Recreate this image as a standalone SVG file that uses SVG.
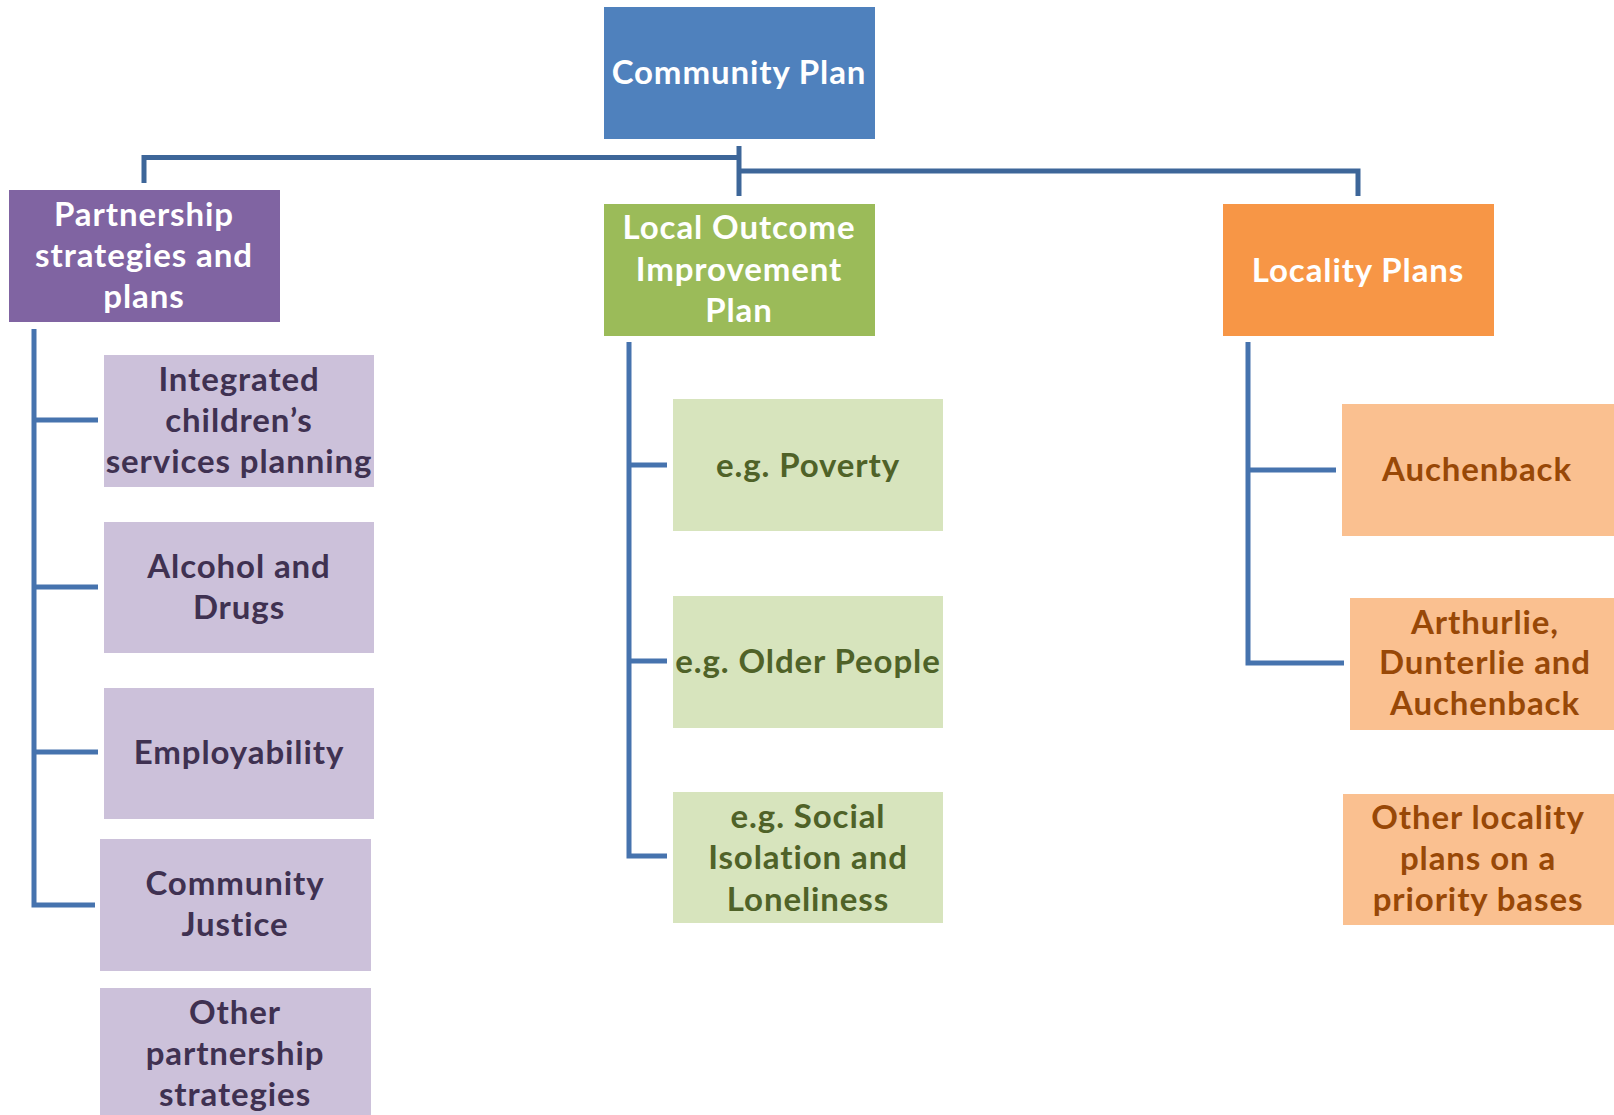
<svg xmlns="http://www.w3.org/2000/svg" width="1614" height="1115" viewBox="0 0 1614 1115">
<style>
text{font-family:Lato,"Open Sans","Liberation Sans",sans-serif;font-weight:bold;font-size:33px;letter-spacing:0.9px;text-anchor:middle}
.w{fill:#ffffff}
.p{fill:#3f3151}
.g{fill:#4f6228}
.o{fill:#984807}
.ln{fill:none;stroke:#4673ae;stroke-width:5;stroke-linejoin:miter}
.lt{fill:none;stroke:#3d6699;stroke-width:5}
</style>
<rect width="1614" height="1115" fill="#ffffff"/>
<g id="connectors">
<path class="lt" d="M739 146 V196"/>
<path class="lt" d="M739 157.5 H144 V183"/>
<path class="lt" d="M739 171 H1358 V196"/>
<path class="ln" d="M34 329 V905 H95 M34 420 H98 M34 587 H98 M34 752 H98"/>
<path class="ln" d="M629 342 V856 H667 M629 465 H667 M629 661 H667"/>
<path class="ln" d="M1248 342 V663 H1344 M1248 470 H1336"/>
</g>
<g id="community-plan"><rect x="604" y="7" width="271" height="132" fill="#4f81bd"/><text class="w" x="739" y="84">Community Plan</text></g>
<g id="partnership"><rect x="9" y="190" width="271" height="132" fill="#8064a2"/><text class="w" x="144" y="226">Partnership</text><text class="w" x="144" y="267">strategies and</text><text class="w" x="144" y="308">plans</text></g>
<g id="loip"><rect x="604" y="204" width="271" height="132" fill="#9bbb59"/><text class="w" x="739" y="239">Local Outcome</text><text class="w" x="739" y="281">Improvement</text><text class="w" x="739" y="322">Plan</text></g>
<g id="locality"><rect x="1223" y="204" width="271" height="132" fill="#f79646"/><text class="w" x="1358" y="282">Locality Plans</text></g>
<g id="integrated"><rect x="104" y="355" width="270" height="132" fill="#ccc1da"/><text class="p" x="239" y="391">Integrated</text><text class="p" x="239" y="432">children’s</text><text class="p" x="239" y="473">services planning</text></g>
<g id="alcohol"><rect x="104" y="522" width="270" height="131" fill="#ccc1da"/><text class="p" x="239" y="578">Alcohol and</text><text class="p" x="239" y="619">Drugs</text></g>
<g id="employability"><rect x="104" y="688" width="270" height="131" fill="#ccc1da"/><text class="p" x="239" y="764">Employability</text></g>
<g id="community-justice"><rect x="100" y="839" width="271" height="132" fill="#ccc1da"/><text class="p" x="235" y="895">Community</text><text class="p" x="235" y="936">Justice</text></g>
<g id="other-partnership"><rect x="100" y="988" width="271" height="130" fill="#ccc1da"/><text class="p" x="235" y="1024">Other</text><text class="p" x="235" y="1065">partnership</text><text class="p" x="235" y="1106">strategies</text></g>
<g id="poverty"><rect x="673" y="399" width="270" height="132" fill="#d7e4bd"/><text class="g" x="808" y="477">e.g. Poverty</text></g>
<g id="older-people"><rect x="673" y="596" width="270" height="132" fill="#d7e4bd"/><text class="g" x="808" y="673">e.g. Older People</text></g>
<g id="social-isolation"><rect x="673" y="792" width="270" height="131" fill="#d7e4bd"/><text class="g" x="808" y="828">e.g. Social</text><text class="g" x="808" y="869">Isolation and</text><text class="g" x="808" y="911">Loneliness</text></g>
<g id="auchenback"><rect x="1342" y="404" width="272" height="132" fill="#fac090"/><text class="o" x="1477" y="481">Auchenback</text></g>
<g id="arthurlie"><rect x="1350" y="598" width="264" height="132" fill="#fac090"/><text class="o" x="1485" y="634">Arthurlie,</text><text class="o" x="1485" y="674">Dunterlie and</text><text class="o" x="1485" y="715">Auchenback</text></g>
<g id="other-locality"><rect x="1343" y="794" width="271" height="131" fill="#fac090"/><text class="o" x="1478" y="829">Other locality</text><text class="o" x="1478" y="870">plans on a</text><text class="o" x="1478" y="911">priority bases</text></g>
</svg>
